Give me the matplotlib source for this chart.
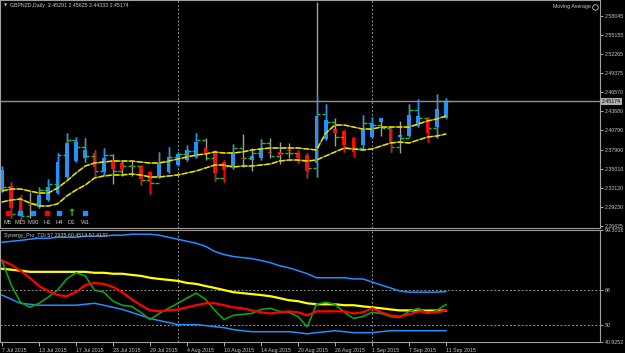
import numpy as np
import pandas as pd
import matplotlib.pyplot as plt

# GBPNZD daily bars, 7 Jul - 11 Sep 2015
dates = pd.bdate_range('2015-07-07', '2015-09-11')

# Heiken Ashi candles (coloured)
ha_open = [2.3184, 2.3244, 2.3079, 2.2959, 2.2929, 2.3034, 2.3139, 2.3380, 2.3620, 2.3665,
           2.3741, 2.3455, 2.3635, 2.3590, 2.3560, 2.3545, 2.3455, 2.3380, 2.3455, 2.3560,
           2.3635, 2.3680, 2.3816, 2.3771, 2.3605, 2.3530, 2.3665, 2.3635, 2.3665, 2.3756,
           2.3756, 2.3786, 2.3741, 2.3711, 2.3590, 2.3951, 2.4101, 2.4071, 2.3966, 2.3861,
           2.3981, 2.4207, 2.4101, 2.3981, 2.3996, 2.4147, 2.4267, 2.4131, 2.4267]
ha_close = [2.3485, 2.2914, 2.2853, 2.2944, 2.3109, 2.3229, 2.3605, 2.3891, 2.3906, 2.3786,
            2.3530, 2.3665, 2.3500, 2.3500, 2.3545, 2.3350, 2.3350, 2.3575, 2.3680, 2.3726,
            2.3786, 2.3906, 2.3741, 2.3440, 2.3485, 2.3741, 2.3650, 2.3696, 2.3816, 2.3741,
            2.3711, 2.3771, 2.3665, 2.3470, 2.4297, 2.4237, 2.4041, 2.3861, 2.3756, 2.4101,
            2.4177, 2.4267, 2.3906, 2.4011, 2.4312, 2.4297, 2.4041, 2.4402, 2.4507]
ha_high = [2.3545, 2.3305, 2.3109, 2.2959, 2.3229, 2.3350, 2.3741, 2.4041, 2.3981, 2.3966,
           2.3786, 2.3816, 2.3635, 2.3590, 2.3560, 2.3560, 2.3470, 2.3756, 2.3831, 2.3756,
           2.3861, 2.4041, 2.3816, 2.3786, 2.3635, 2.3876, 2.3665, 2.3696, 2.3951, 2.3756,
           2.3756, 2.3786, 2.3786, 2.3741, 2.4628, 2.4477, 2.4101, 2.4086, 2.3981, 2.4312,
           2.4282, 2.4267, 2.4116, 2.4011, 2.4477, 2.4552, 2.4282, 2.4628, 2.4568]
ha_low = [2.3154, 2.2763, 2.2733, 2.2944, 2.2914, 2.3019, 2.3124, 2.3365, 2.3605, 2.3605,
          2.3380, 2.3410, 2.3500, 2.3500, 2.3545, 2.3259, 2.3124, 2.3365, 2.3440, 2.3545,
          2.3620, 2.3665, 2.3741, 2.3320, 2.3305, 2.3500, 2.3650, 2.3635, 2.3635, 2.3741,
          2.3711, 2.3771, 2.3590, 2.3365, 2.3380, 2.3936, 2.4041, 2.3756, 2.3680, 2.3786,
          2.3966, 2.4207, 2.3756, 2.3981, 2.3981, 2.4131, 2.3906, 2.3966, 2.4252]

# real OHLC bars (grey range, green open/close ticks)
bar_high = [2.3545, 2.3305, 2.3109, 2.3154, 2.3229, 2.3350, 2.3741, 2.4041, 2.3981, 2.3966,
            2.3786, 2.3816, 2.3726, 2.3620, 2.3620, 2.3560, 2.3470, 2.3756, 2.3831, 2.3756,
            2.3861, 2.4041, 2.3966, 2.3786, 2.3635, 2.3876, 2.4026, 2.3816, 2.3951, 2.3966,
            2.3906, 2.3891, 2.3786, 2.3741, 2.6011, 2.4477, 2.4267, 2.4086, 2.3981, 2.4312,
            2.4282, 2.4252, 2.4116, 2.4222, 2.4477, 2.4552, 2.4282, 2.4628, 2.45625]
bar_low = [2.3154, 2.2763, 2.2733, 2.2763, 2.2914, 2.3019, 2.3124, 2.3365, 2.3605, 2.3605,
           2.3380, 2.3410, 2.3274, 2.3395, 2.3395, 2.3259, 2.3124, 2.3365, 2.3440, 2.3545,
           2.3620, 2.3665, 2.3635, 2.3320, 2.3305, 2.3500, 2.3530, 2.3470, 2.3635, 2.3665,
           2.3575, 2.3665, 2.3590, 2.3365, 2.3380, 2.3936, 2.3846, 2.3756, 2.3680, 2.3786,
           2.3966, 2.3996, 2.3756, 2.3741, 2.3981, 2.4131, 2.3906, 2.3966, 2.44333]
bar_open = [2.3365, 2.3229, 2.2823, 2.2793, 2.2989, 2.3184, 2.3274, 2.3711, 2.3936, 2.3831,
            2.3696, 2.3470, 2.3711, 2.3470, 2.3545, 2.3545, 2.3335, 2.3290, 2.3605, 2.3680,
            2.3726, 2.3771, 2.3936, 2.3665, 2.3365, 2.3545, 2.3816, 2.3665, 2.3741, 2.3891,
            2.3696, 2.3741, 2.3741, 2.3635, 2.3515, 2.4327, 2.4207, 2.3981, 2.3816, 2.3816,
            2.4192, 2.4161, 2.4116, 2.3831, 2.3966, 2.4387, 2.4267, 2.4116, 2.45291]
bar_close = [2.3229, 2.2823, 2.2793, 2.2989, 2.3184, 2.3274, 2.3711, 2.3936, 2.3831, 2.3696,
             2.3470, 2.3711, 2.3470, 2.3545, 2.3545, 2.3335, 2.3290, 2.3605, 2.3680, 2.3726,
             2.3771, 2.3936, 2.3665, 2.3365, 2.3545, 2.3816, 2.3665, 2.3741, 2.3891, 2.3696,
             2.3741, 2.3741, 2.3635, 2.3515, 2.4327, 2.4207, 2.3981, 2.3816, 2.3816, 2.4192,
             2.4161, 2.4116, 2.3831, 2.3966, 2.4387, 2.4267, 2.4116, 2.4522, 2.45174]

ma_upper = [2.3169, 2.3199, 2.3199, 2.3169, 2.3139, 2.3139, 2.3214, 2.3320, 2.3440, 2.3545,
            2.3590, 2.3605, 2.3620, 2.3620, 2.3620, 2.3605, 2.3590, 2.3590, 2.3620, 2.3650,
            2.3680, 2.3711, 2.3726, 2.3756, 2.3741, 2.3741, 2.3756, 2.3786, 2.3801, 2.3816,
            2.3816, 2.3816, 2.3816, 2.3801, 2.3786, 2.4041, 2.4161, 2.4161, 2.4131, 2.4101,
            2.4101, 2.4131, 2.4131, 2.4131, 2.4131, 2.4177, 2.4222, 2.4252, 2.4297]
ma_lower = [2.3004, 2.3034, 2.3049, 2.2989, 2.2944, 2.2944, 2.2974, 2.3094, 2.3184, 2.3259,
            2.3365, 2.3395, 2.3410, 2.3410, 2.3425, 2.3410, 2.3380, 2.3380, 2.3395, 2.3410,
            2.3440, 2.3470, 2.3515, 2.3560, 2.3560, 2.3530, 2.3545, 2.3545, 2.3560, 2.3575,
            2.3620, 2.3635, 2.3635, 2.3620, 2.3635, 2.3696, 2.3756, 2.3816, 2.3801, 2.3786,
            2.3801, 2.3846, 2.3891, 2.3906, 2.3891, 2.3936, 2.3981, 2.3996, 2.4026]

# Synergy_Pro_TDI lines
tdi_green = [83.4, 70.6, 61.6, 59.0, 61.1, 64.3, 68.0, 73.8, 77.0, 75.4, 68.0, 66.9, 62.2, 60.1,
             59.5, 56.4, 52.6, 55.8, 58.5, 61.1, 63.8, 66.4, 63.2, 57.4, 52.6, 54.8, 55.3, 55.8,
             57.9, 58.5, 56.9, 56.4, 54.2, 48.9, 60.6, 61.6, 60.6, 56.4, 53.2, 54.2, 56.4, 55.8,
             54.2, 53.7, 56.9, 58.5, 55.8, 57.4, 60.45]
tdi_red = [83.4, 81.2, 78.1, 74.4, 70.1, 67.5, 65.4, 64.8, 66.9, 70.6, 71.7, 71.2, 69.6, 66.9,
           63.2, 60.1, 57.4, 56.9, 57.4, 57.9, 59.0, 60.1, 61.1, 61.1, 60.1, 59.0, 58.5, 57.4,
           56.4, 55.8, 56.4, 56.9, 56.4, 54.8, 56.9, 56.9, 56.9, 56.9, 55.8, 56.4, 58.5, 56.4,
           54.8, 54.2, 55.3, 56.9, 56.4, 56.4, 57.41]
tdi_yellow = [79.1, 78.6, 78.1, 77.5, 77.5, 77.5, 77.5, 77.5, 77.5, 77.5, 77.0, 77.0, 76.5, 76.5,
              75.9, 75.4, 74.4, 73.8, 73.3, 72.8, 71.7, 71.2, 70.1, 69.1, 68.0, 66.9, 66.4, 65.9,
              65.4, 64.8, 63.8, 62.7, 62.2, 61.1, 60.6, 60.6, 60.6, 60.1, 60.1, 59.5, 59.0, 58.5,
              57.9, 57.4, 57.4, 57.3, 57.3, 57.3, 57.29]
tdi_upper = [92.9, 93.4, 93.9, 94.5, 95.0, 95.0, 95.5, 95.5, 95.5, 96.1, 96.1, 96.1, 96.6, 96.6,
             97.1, 97.1, 97.1, 96.6, 95.5, 94.5, 93.4, 92.4, 90.8, 88.1, 86.5, 85.5, 84.9, 84.4,
             83.4, 82.3, 80.7, 79.6, 78.1, 76.5, 74.4, 74.4, 74.4, 74.4, 73.8, 73.8, 72.2, 70.6,
             69.1, 67.5, 66.9, 66.9, 66.9, 66.9, 67.2]
tdi_lower = [65.4, 63.2, 61.1, 60.6, 60.1, 60.1, 60.1, 60.1, 60.1, 60.6, 61.1, 60.1, 59.0, 57.9,
             56.4, 54.8, 53.2, 52.1, 51.1, 50.0, 50.0, 50.0, 49.5, 48.9, 48.4, 47.4, 46.8, 46.3,
             46.3, 46.3, 46.3, 46.3, 45.8, 45.2, 45.8, 46.3, 46.8, 46.3, 45.8, 45.8, 45.8, 46.3,
             46.8, 46.8, 46.8, 46.8, 46.8, 46.8, 46.8]

price_ticks = [2.58045, 2.55155, 2.52265, 2.49375, 2.46570, 2.43680, 2.40790, 2.37900,
               2.35010, 2.32120, 2.29230, 2.26425]
last_price = 2.45174
tdi_ticks = [99.3016, 68, 50, 40.9252]
tdi_levels = [68, 50]
tf_labels = ['M5', 'M15', 'M30', 'H1', 'H4', 'D1', 'W1']
tf_signal = ['dn', 'up', 'up', 'dn', 'up', 'arrow', 'up']

BLUE = '#1e90ff'
RED = '#ff0000'
FG = '#c8c8c8'
FS = 3.8
plt.rcParams['font.family'] = ['Liberation Sans', 'DejaVu Sans']

W, H = 625, 353
fig = plt.figure(figsize=(W / 100, H / 100), dpi=100, facecolor='black')


def pane(top, bottom, right=600):
    a = fig.add_axes([0, 1 - bottom / H, right / W, (bottom - top) / H], facecolor='black')
    for s in a.spines.values():
        s.set_color('#a0a0a0')
        s.set_linewidth(0.8)
    a.set_xlim(-2 / 9.25, 598 / 9.25)
    return a


ax = pane(0, 228)
ax2 = pane(230, 342)

x = np.arange(len(dates))
o = np.array(ha_open)
c = np.array(ha_close)
cols = [BLUE if cc >= oo else RED for oo, cc in zip(o, c)]

# month separators
month_start = [i for i in range(1, len(dates)) if dates[i].month != dates[i - 1].month]
for a in (ax, ax2):
    for m in month_start:
        a.axvline(m, color='#909090', lw=0.7, ls=(0, (2, 2)))

ax.vlines(x, bar_low, bar_high, color='#a0a0a0', lw=1)
ax.hlines(bar_open, x - 0.42, x - 0.05, color='#22c422', lw=1)
ax.hlines(bar_close, x + 0.05, x + 0.42, color='#22c422', lw=1)
ax.vlines(x, ha_low, ha_high, color=cols, lw=1)
body = np.maximum(np.abs(c - o), 0.0012)
ax.bar(x, body, bottom=np.minimum(o, c), width=0.42, color=cols, linewidth=0)

for ma in (ma_upper, ma_lower):
    ax.plot(x, ma, color='#8c8c00', lw=1)
    ax.plot(x, ma, color='#e8e800', lw=1, ls=(0, (4, 1.5)))

ax.axhline(last_price, color='#909090', lw=1)
ax.set_ylim(2.2613, 2.6041)
ax.yaxis.tick_right()
ax.set_yticks(price_ticks)
ax.set_yticklabels([f'{p:.5f}' for p in price_ticks])
ax.tick_params(axis='y', colors=FG, labelsize=FS, length=2.5, width=0.6, pad=1)
ax.set_xticks([])
ax.text(1.003, last_price, f'{last_price:.5f}', transform=ax.get_yaxis_transform(),
        fontsize=FS, color='black', va='center', ha='left',
        bbox=dict(fc='#b0b0b0', ec='none', pad=0.8))

ax.text(0.007, 0.975, '▼', transform=ax.transAxes, fontsize=3, color=FG, va='center',
        family='DejaVu Sans')
ax.text(0.017, 0.975, 'GBPNZD,Daily  2.45291 2.45625 2.44333 2.45174', transform=ax.transAxes,
        fontsize=FS, color=FG, va='center')
ax.text(0.985, 0.97, 'Moving Average', transform=ax.transAxes, fontsize=FS, color=FG,
        va='center', ha='right')
ax.plot([0.992], [0.97], marker='o', ms=4, mfc='none', mec=FG, mew=0.6,
        transform=ax.transAxes)

# timeframe signal panel
for k, (lab, sig) in enumerate(zip(tf_labels, tf_signal)):
    px = [8, 20, 33, 47, 59, 71, 85][k]
    xa = px / 600
    if sig == 'arrow':
        ax.text(xa, 1 - 213 / 228, '↑', transform=ax.transAxes, fontsize=7, color='#32cd32',
                ha='center', va='center', family='DejaVu Sans', fontweight='bold')
    else:
        ax.plot([xa], [1 - 213 / 228], marker='s', ms=3.5, color=RED if sig == 'dn' else BLUE,
                transform=ax.transAxes, clip_on=False)
    ax.text(xa, 1 - 222 / 228, lab, transform=ax.transAxes, fontsize=FS + 0.4, color=FG,
            ha='center', va='center')

# TDI pane
for lv in tdi_levels:
    ax2.axhline(lv, color='#909090', lw=0.7, ls=(0, (2, 2)))
ax2.plot(x, tdi_upper, color=BLUE, lw=1.1)
ax2.plot(x, tdi_lower, color=BLUE, lw=1.1)
ax2.plot(x, tdi_yellow, color='#ffff00', lw=1.6)
ax2.plot(x, tdi_green, color='#10a010', lw=1.2)
ax2.plot(x, tdi_red, color=RED, lw=1.6)
ax2.set_ylim(40.9252, 99.3016)
ax2.yaxis.tick_right()
ax2.set_yticks(tdi_ticks)
ax2.set_yticklabels(['99.3016', '68', '50', '40.9252'])
ax2.tick_params(axis='y', colors=FG, labelsize=FS, length=2.5, width=0.6, pad=1)
ax2.text(0.007, 0.955, 'Synergy_Pro_TDI 57.2935 60.4513 57.4137', transform=ax2.transAxes,
         fontsize=FS, color=FG, va='center')

lab_idx = list(range(0, len(dates), 4))
ax2.set_xticks(lab_idx)
ax2.set_xticklabels([f'{dates[i].day} {dates[i]:%b %Y}' for i in lab_idx], ha='left')
ax2.tick_params(axis='x', colors=FG, labelsize=FS, length=3, width=0.6, pad=1)

fig.savefig('out.png', dpi=100, facecolor='black')
